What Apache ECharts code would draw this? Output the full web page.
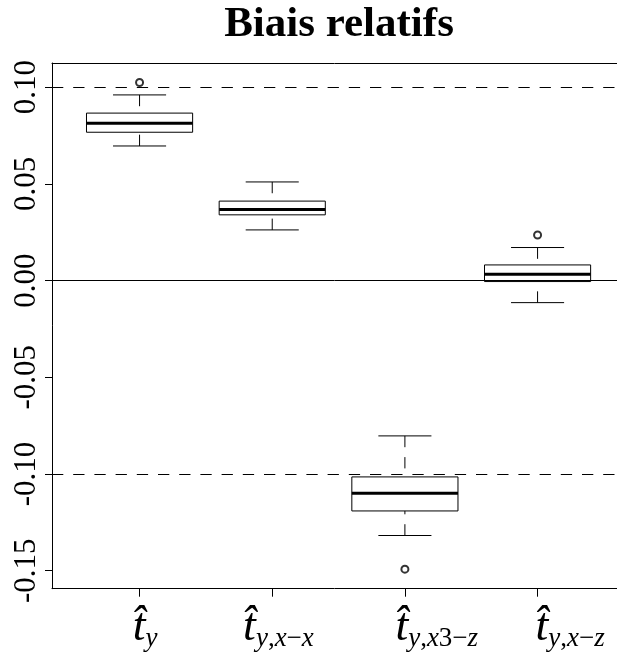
<!DOCTYPE html>
<html><head><meta charset="utf-8">
<script src="https://cdn.jsdelivr.net/npm/echarts@6/dist/echarts.min.js"></script>
<style>html,body{margin:0;padding:0;background:#fff}#c{width:617px;height:654px}</style>
</head><body><div id="c"></div>
<script>
// ---- data ----
const categories = ['y', 'y,x-x', 'y,x3-z', 'y,x-z'];   // subscripts of t-hat
const positions = [1, 2, 3, 4];
const whiskerLow  = [0.0696, 0.0262, -0.1318, -0.0114];
const q1          = [0.0767, 0.0340, -0.1191, -0.0005];
const median      = [0.0814, 0.0367, -0.1099,  0.0033];
const q3          = [0.0866, 0.0411, -0.1015,  0.0081];
const whiskerHigh = [0.0960, 0.0510, -0.0803,  0.0171];
const outliers = [[1, 0.1024], [3, -0.1492], [4, 0.0236]];
const yTicks = [-0.15, -0.10, -0.05, 0.00, 0.05, 0.10];
const dashedRefs = [0.10, -0.10];
const solidRefs = [0.00];

// ---- styling ----
const labelShift = [0.042, 0.047, 0.240, 0.245];   // label centre offset from tick (axis units)
const DASH = [11.3, 9.9];
const X_MIN = 0.34, X_MAX = 4.5987, Y_MIN = -0.1593, Y_MAX = 0.1125;
const boxData = positions.map((p, i) => [p, whiskerLow[i], q1[i], median[i], q3[i], whiskerHigh[i]]);
const labelValues = positions.map((p, i) => p + labelShift[i]);

function subTokens(s) {
  let out = '';
  for (const ch of s) {
    if (/[a-z]/.test(ch)) out += '{si|' + ch + '}';
    else if (ch === '-') out += '{sr|\u2212}';
    else out += '{sr|' + ch + '}';
  }
  return out;
}
function labelIndex(v) {
  let best = 0;
  labelValues.forEach((lv, i) => { if (Math.abs(lv - v) < Math.abs(labelValues[best] - v)) best = i; });
  return best;
}
const rich = {
  t:  {fontFamily: 'Liberation Serif', fontStyle: 'italic', fontSize: 46, color: '#000', lineHeight: 50},
  si: {fontFamily: 'Liberation Serif', fontStyle: 'italic', fontSize: 27, color: '#000', verticalAlign: 'bottom', lineHeight: 27},
  sr: {fontFamily: 'Liberation Serif', fontSize: 27, color: '#000', verticalAlign: 'bottom', lineHeight: 27}
};

const chart = echarts.init(document.getElementById('c'));
chart.setOption({
  animation: false,
  backgroundColor: '#fff',
  title: {
    text: 'Biais relatifs', left: 339, top: 3, textAlign: 'center', padding: 0,
    textStyle: {fontFamily: 'Liberation Serif', fontWeight: 'bold', fontSize: 43, color: '#000'}
  },
  grid: {left: 52, top: 63, right: 0, height: 525.7, show: false, containLabel: false, outerBoundsMode: 'none'},
  xAxis: [{
    type: 'value', min: X_MIN, max: X_MAX, position: 'bottom',
    axisLine: {show: true, onZero: false, lineStyle: {color: '#000', width: 1}}, splitLine: {show: false},
    axisTick: {show: true, customValues: positions, length: 8, lineStyle: {color: '#000', width: 1}},
    axisLabel: {
      show: true, customValues: labelValues, margin: 14, hideOverlap: false,
      showMinLabel: true, showMaxLabel: true,
      formatter: v => { const i = labelIndex(v); return '{t|t\u0302}' + subTokens(categories[i]); },
      rich: rich
    }
  }, {
    type: 'value', position: 'top', min: X_MIN, max: X_MAX,
    axisLine: {show: true, onZero: false, lineStyle: {color: '#000', width: 1}}, splitLine: {show: false},
    axisTick: {show: false}, axisLabel: {show: false}
  }],
  yAxis: {
    type: 'value', min: Y_MIN, max: Y_MAX,
    axisLine: {show: true, onZero: false, lineStyle: {color: '#000', width: 1}}, splitLine: {show: false},
    axisTick: {show: true, customValues: yTicks, length: 7, lineStyle: {color: '#000', width: 1}},
    axisLabel: {
      show: true, customValues: yTicks, rotate: 90, margin: 10,
      showMinLabel: true, showMaxLabel: true,
      fontFamily: 'Liberation Serif', fontSize: 31, color: '#000',
      formatter: v => v.toFixed(2)
    }
  },
  series: [
    {
      type: 'line', data: [], silent: true,
      markLine: {
        silent: true, symbol: ['none', 'none'], label: {show: false},
        data: dashedRefs.map(v => ({yAxis: v, lineStyle: {type: DASH, color: '#000', width: 1}}))
          .concat(solidRefs.map(v => ({yAxis: v, lineStyle: {type: 'solid', color: '#000', width: 1}})))
      }
    },
    {
      type: 'custom', data: boxData, silent: true,
      encode: {x: 0, y: [1, 2, 3, 4, 5]},
      renderItem: (params, api) => {
        const x = api.value(0);
        const lo = api.coord([x, api.value(1)]);
        const b1 = api.coord([x, api.value(2)]);
        const md = api.coord([x, api.value(3)]);
        const b3 = api.coord([x, api.value(4)]);
        const hi = api.coord([x, api.value(5)]);
        const unit = api.size([1, 0])[0];
        const hw = unit * 0.4, cw = unit * 0.2, cx = lo[0];
        const ls = {stroke: '#000', lineWidth: 1, fill: null};
        return {type: 'group', children: [
          {type: 'line', shape: {x1: cx, y1: hi[1], x2: cx, y2: b3[1]}, style: Object.assign({lineDash: DASH}, ls)},
          {type: 'line', shape: {x1: cx, y1: lo[1], x2: cx, y2: b1[1]}, style: Object.assign({lineDash: DASH}, ls)},
          {type: 'line', shape: {x1: cx - cw, y1: hi[1], x2: cx + cw, y2: hi[1]}, style: ls},
          {type: 'line', shape: {x1: cx - cw, y1: lo[1], x2: cx + cw, y2: lo[1]}, style: ls},
          {type: 'rect', shape: {x: cx - hw, y: b3[1], width: 2 * hw, height: b1[1] - b3[1]}, style: ls},
          {type: 'line', shape: {x1: cx - hw, y1: md[1], x2: cx + hw, y2: md[1]}, style: {stroke: '#000', lineWidth: 3}}
        ]};
      }
    },
    {
      type: 'scatter', data: outliers, symbol: 'emptyCircle', symbolSize: 7, silent: true,
      itemStyle: {color: '#000', borderColor: '#000', borderWidth: 1}
    }
  ]
});
</script></body></html>
